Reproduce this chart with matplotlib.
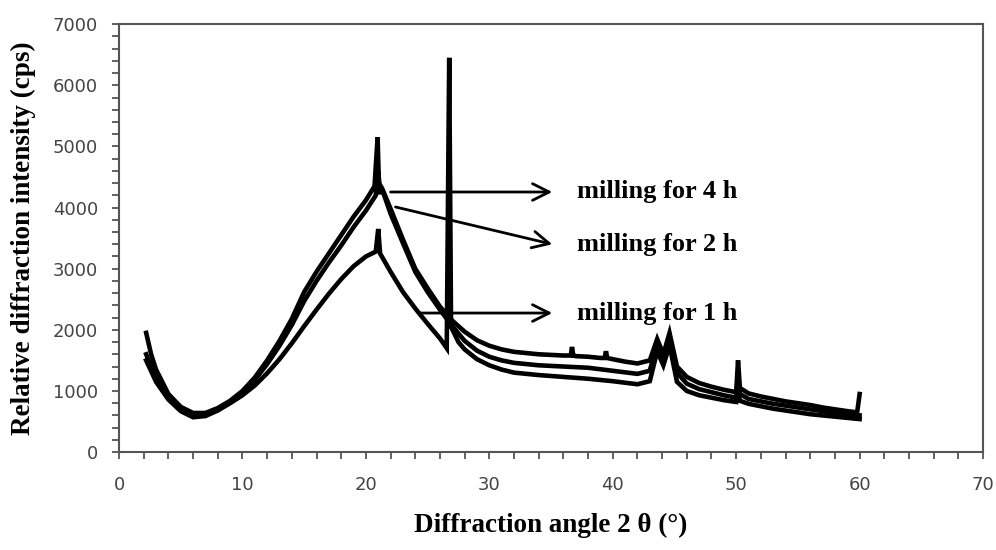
import matplotlib
matplotlib.use("Agg")
import matplotlib.pyplot as plt
from matplotlib.ticker import MultipleLocator

# XRD patterns after milling (2 theta in degrees, intensity in cps)
x_4h = [2.2, 2.6, 3, 4, 5, 6, 7, 8, 9, 10, 11, 12, 13, 14, 15, 16, 17, 18, 19, 20,
        20.7, 20.95, 21.05, 21.3, 22, 23, 24, 25, 26, 27, 28, 29, 30, 31, 32, 33, 34,
        35, 36, 36.6, 36.7, 36.8, 37, 38, 39, 39.35, 39.45, 39.55, 40, 41, 42, 43,
        43.6, 44.1, 44.6, 45.2, 46, 47, 48, 49, 50, 50.15, 50.3, 51, 52, 53, 54, 55,
        56, 57, 58, 59, 59.8, 60]
y_4h = [1950, 1600, 1350, 950, 740, 640, 640, 720, 840, 1000, 1220, 1500, 1820, 2180,
        2620, 2950, 3250, 3550, 3850, 4120, 4350, 5150, 4400, 4320, 3980, 3480, 3000,
        2680, 2380, 2150, 1970, 1830, 1740, 1680, 1640, 1620, 1600, 1590, 1580, 1580,
        1720, 1580, 1570, 1560, 1540, 1540, 1650, 1540, 1520, 1480, 1450, 1500, 1850,
        1600, 1950, 1400, 1230, 1130, 1070, 1020, 980, 1500, 1050, 960, 910, 870, 830,
        800, 770, 730, 700, 670, 650, 950]

x_2h = [2.2, 3, 4, 5, 6, 7, 8, 9, 10, 11, 12, 13, 14, 15, 16, 17, 18, 19, 20, 20.8,
        21.0, 21.15, 21.4, 22, 23, 24, 25, 26, 27, 28, 29, 30, 31, 32, 34, 36, 38, 40,
        42, 43, 43.6, 44.1, 44.6, 45.2, 46, 47, 48, 49, 50, 50.15, 50.3, 51, 52, 53,
        54, 55, 56, 57, 58, 59, 60]
y_2h = [1600, 1200, 900, 700, 600, 610, 700, 820, 970, 1180, 1440, 1740, 2080, 2470,
        2800, 3100, 3380, 3680, 3950, 4200, 4600, 4250, 4250, 3900, 3420, 2950, 2620,
        2330, 2060, 1820, 1660, 1560, 1500, 1460, 1420, 1400, 1380, 1330, 1280, 1330,
        1780, 1480, 1880, 1300, 1120, 1030, 980, 930, 890, 1250, 950, 870, 830, 790,
        760, 730, 700, 670, 640, 610, 600]

x_1h = [2.2, 3, 4, 5, 6, 7, 8, 9, 10, 11, 12, 13, 14, 15, 16, 17, 18, 19, 20, 20.8,
        21.0, 21.15, 22, 23, 24, 25, 26, 26.55, 26.75, 26.9, 27.5, 28, 29, 30, 31, 32,
        34, 36, 38, 40, 42, 43, 43.6, 44.1, 44.6, 45.2, 46, 47, 48, 49, 50, 50.15,
        50.3, 51, 52, 53, 54, 55, 56, 57, 58, 59, 60]
y_1h = [1500, 1150, 860, 670, 570, 590, 680, 800, 930, 1090, 1290, 1520, 1780, 2060,
        2330, 2590, 2830, 3040, 3200, 3280, 3650, 3250, 2950, 2620, 2350, 2100, 1860,
        1700, 6450, 2050, 1800, 1680, 1520, 1420, 1350, 1300, 1260, 1230, 1200, 1160,
        1110, 1160, 1650, 1420, 1750, 1150, 1000, 930, 890, 850, 820, 1000, 840, 790,
        750, 710, 680, 650, 620, 600, 580, 560, 540]

# arrow labels: text, arrow start (x, y), arrow end y
labels = ["milling for 4 h", "milling for 2 h", "milling for 1 h"]
arrow_starts = [(22.0, 4255), (22.4, 4010), (24.4, 2275)]
arrow_ends_y = [4255, 3400, 2275]

serif = "Liberation Serif"
tick_color = "#444444"
spine_color = "#555555"

fig = plt.figure(figsize=(9.96, 5.5), dpi=100)
ax = fig.add_axes([0.1195, 0.178, 0.8675, 0.778])

for xs, ys in [(x_1h, y_1h), (x_2h, y_2h), (x_4h, y_4h)]:
    ax.plot(xs, ys, color="black", linewidth=3.3, solid_joinstyle="miter")

for text, (x0, y0), y1 in zip(labels, arrow_starts, arrow_ends_y):
    ax.annotate("", xy=(35.1, y1), xytext=(x0, y0),
                arrowprops=dict(arrowstyle="->,head_length=0.6,head_width=0.3",
                                color="black", linewidth=2.0,
                                mutation_scale=20, shrinkA=0, shrinkB=0))
    ax.text(37.1, y1, text, fontsize=19, fontweight="bold", family=serif,
            ha="left", va="center")

ax.set_xlim(0, 70)
ax.set_ylim(0, 7000)
ax.xaxis.set_major_locator(MultipleLocator(10))
ax.xaxis.set_minor_locator(MultipleLocator(2))
ax.yaxis.set_major_locator(MultipleLocator(1000))
ax.yaxis.set_minor_locator(MultipleLocator(200))

ax.tick_params(which="both", direction="out", length=5, width=1.3,
               color=spine_color, labelcolor=tick_color, labelsize=13)
ax.tick_params(axis="x", which="major", pad=12)
ax.tick_params(axis="y", which="major", pad=10)
for spine in ax.spines.values():
    spine.set_color(spine_color)
    spine.set_linewidth(1.5)

ax.set_xlabel("Diffraction angle 2 \u03b8 (\u00b0)", fontsize=19.5,
              fontweight="bold", family=serif, labelpad=14)
ax.set_ylabel("Relative diffraction intensity (cps)", fontsize=19.5,
              fontweight="bold", family=serif, labelpad=12)

fig.savefig("out.png", dpi=100)
